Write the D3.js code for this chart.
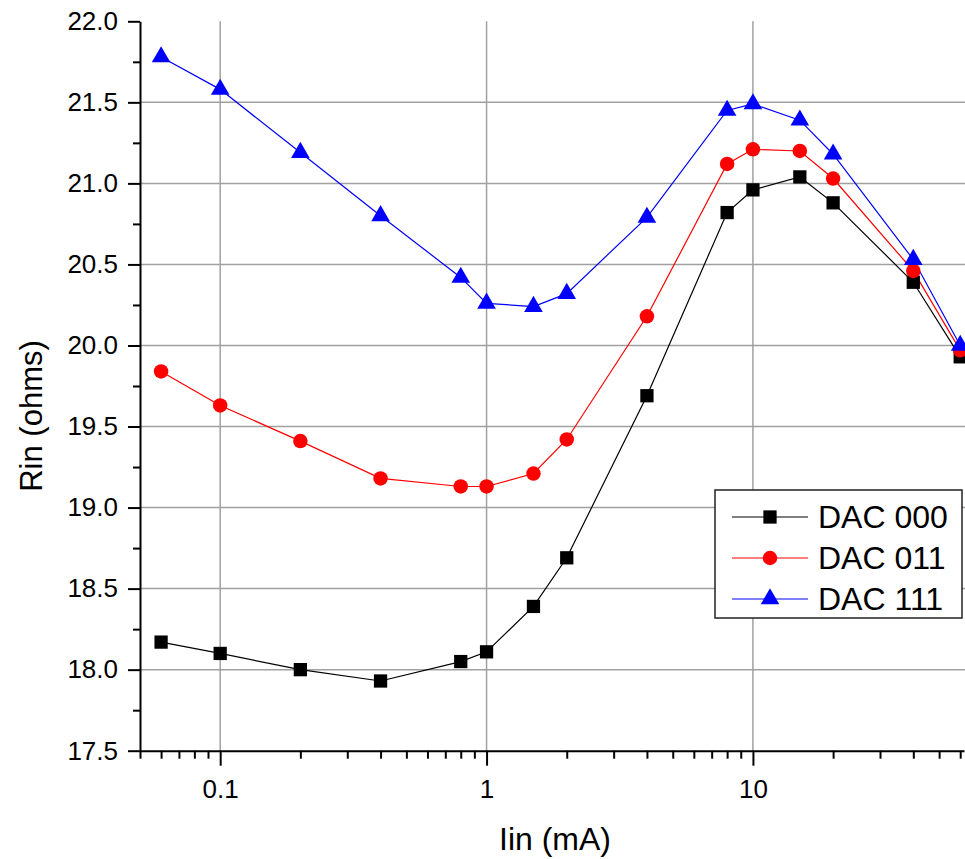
<!DOCTYPE html>
<html>
<head>
<meta charset="utf-8">
<script src="https://cdn.jsdelivr.net/npm/d3@7"></script>
<style>
    html, body { margin: 0; padding: 0; background: #fff; }
    #chart { width: 965px; height: 859px; }
</style>
</head>
<body>
<div id="chart"></div>
<script>
// Current steps (mA)
const currents = [0.06, 0.1, 0.2, 0.4, 0.8, 1, 1.5, 2, 4, 8, 10, 15, 20, 40, 60];

// Rin (ohms) for each DAC setting
const dac000 = [18.17, 18.10, 18.00, 17.93, 18.05, 18.11, 18.39, 18.69, 19.69, 20.82, 20.96, 21.04, 20.88, 20.39, 19.93];
const dac011 = [19.84, 19.63, 19.41, 19.18, 19.13, 19.13, 19.21, 19.42, 20.18, 21.12, 21.21, 21.20, 21.03, 20.46, 19.97];
const dac111 = [21.78, 21.58, 21.19, 20.80, 20.42, 20.26, 20.24, 20.32, 20.79, 21.45, 21.49, 21.39, 21.18, 20.53, 20.00];

const seriesNames = ['DAC 000', 'DAC 011', 'DAC 111'];

// Axis ticks
const xMajorTicks = [0.1, 1, 10];
const xTickLabels = ['0.1', '1', '10'];
const xMinorTicks = [0.05, 0.06, 0.07, 0.08, 0.09, 0.2, 0.3, 0.4, 0.5, 0.6, 0.7, 0.8, 0.9,
                     2, 3, 4, 5, 6, 7, 8, 9, 20, 30, 40, 50, 60];
const yMajorTicks = [17.5, 18.0, 18.5, 19.0, 19.5, 20.0, 20.5, 21.0, 21.5, 22.0];
const yMinorTicks = [17.75, 18.25, 18.75, 19.25, 19.75, 20.25, 20.75, 21.25, 21.75];
const yGridLines = [18.0, 18.5, 19.0, 19.5, 20.0, 20.5, 21.0, 21.5];

function render(container) {
    d3.select(container).selectAll('*').remove();

    const config = {
        width: 965,
        height: 859,
        left: 140,
        right: 964,
        top: 21.3,
        bottom: 750.7,
        font: 'Arial, "Liberation Sans", sans-serif'
    };

    const series = [
        { name: seriesNames[0], values: dac000, color: '#000000', symbol: d3.symbolSquare, size: 176 },
        { name: seriesNames[1], values: dac011, color: '#ff0000', symbol: d3.symbolCircle, size: 165 },
        { name: seriesNames[2], values: dac111, color: '#0000ff', symbol: d3.symbolTriangle, size: 150 }
    ];

    const svg = d3.select(container)
        .append('svg')
        .attr('width', config.width)
        .attr('height', config.height)
        .style('font-family', config.font);

    // Scales
    const xScale = d3.scaleLog()
        .domain([0.05, 62])
        .range([config.left, config.right]);

    const yScale = d3.scaleLinear()
        .domain([17.5, 22.0])
        .range([config.bottom, config.top]);

    // Grid lines
    svg.append('g')
        .selectAll('line')
        .data(yGridLines)
        .enter().append('line')
        .attr('x1', config.left)
        .attr('x2', config.width)
        .attr('y1', d => yScale(d))
        .attr('y2', d => yScale(d))
        .style('stroke', '#a0a0a0')
        .style('stroke-width', '1.5px');

    svg.append('g')
        .selectAll('line')
        .data(xMajorTicks)
        .enter().append('line')
        .attr('x1', d => xScale(d))
        .attr('x2', d => xScale(d))
        .attr('y1', config.top)
        .attr('y2', config.bottom)
        .style('stroke', '#a0a0a0')
        .style('stroke-width', '1.5px');

    // X axis (major + minor ticks)
    const xAxis = svg.append('g')
        .attr('transform', `translate(0,${config.bottom})`);

    xAxis.call(d3.axisBottom(xScale)
        .tickValues(xMajorTicks)
        .tickFormat((d, i) => xTickLabels[i])
        .tickSize(15)
        .tickSizeOuter(0)
        .tickPadding(14));

    xAxis.append('g')
        .call(d3.axisBottom(xScale)
            .tickValues(xMinorTicks)
            .tickFormat('')
            .tickSize(8)
            .tickSizeOuter(0))
        .select('.domain').remove();

    // Y axis (major + minor ticks)
    const yAxis = svg.append('g')
        .attr('transform', `translate(${config.left},0)`);

    yAxis.call(d3.axisLeft(yScale)
        .tickValues(yMajorTicks)
        .tickFormat(d3.format('.1f'))
        .tickSize(12)
        .tickSizeOuter(0)
        .tickPadding(10));

    yAxis.append('g')
        .call(d3.axisLeft(yScale)
            .tickValues(yMinorTicks)
            .tickFormat('')
            .tickSize(7)
            .tickSizeOuter(0))
        .select('.domain').remove();

    svg.selectAll('.domain')
        .style('stroke', '#000')
        .style('stroke-width', '2px');
    svg.selectAll('.tick line')
        .style('stroke', '#000')
        .style('stroke-width', '2px');
    svg.selectAll('.tick text')
        .style('fill', '#000')
        .style('font-family', config.font)
        .style('font-size', '26px');

    // Data lines and markers
    const line = d3.line()
        .x((d, i) => xScale(currents[i]))
        .y(d => yScale(d));

    series.forEach(s => {
        svg.append('path')
            .datum(s.values)
            .attr('d', line)
            .style('fill', 'none')
            .style('stroke', s.color)
            .style('stroke-width', '1.2px');
    });

    series.forEach(s => {
        svg.append('g')
            .selectAll('path')
            .data(s.values)
            .enter().append('path')
            .attr('transform', (d, i) => `translate(${xScale(currents[i])},${yScale(d)})`)
            .attr('d', d3.symbol().type(s.symbol).size(s.size))
            .style('fill', s.color);
    });

    // Axis titles
    svg.append('text')
        .attr('x', 555)
        .attr('y', 850)
        .attr('text-anchor', 'middle')
        .style('font-size', '32px')
        .style('fill', '#000')
        .text('Iin (mA)');

    svg.append('text')
        .attr('transform', `translate(42,${(config.top + config.bottom) / 2 + 30}) rotate(-90)`)
        .attr('text-anchor', 'middle')
        .style('font-size', '31px')
        .style('fill', '#000')
        .text('Rin (ohms)');

    // Legend
    const legend = svg.append('g');

    legend.append('rect')
        .attr('x', 715)
        .attr('y', 490)
        .attr('width', 247)
        .attr('height', 128)
        .style('fill', '#fff')
        .style('stroke', '#222')
        .style('stroke-width', '1.5px');

    series.forEach((s, i) => {
        const y = 517 + i * 41;
        legend.append('line')
            .attr('x1', 732)
            .attr('x2', 808)
            .attr('y1', y)
            .attr('y2', y)
            .style('stroke', s.color)
            .style('stroke-width', '1.2px');
        legend.append('path')
            .attr('transform', `translate(770,${y})`)
            .attr('d', d3.symbol().type(s.symbol).size(s.size))
            .style('fill', s.color);
        legend.append('text')
            .attr('x', 818)
            .attr('y', y + 11)
            .style('font-size', '32px')
            .style('fill', '#000')
            .text(s.name);
    });
}

render(document.getElementById('chart'));
</script>
</body>
</html>
